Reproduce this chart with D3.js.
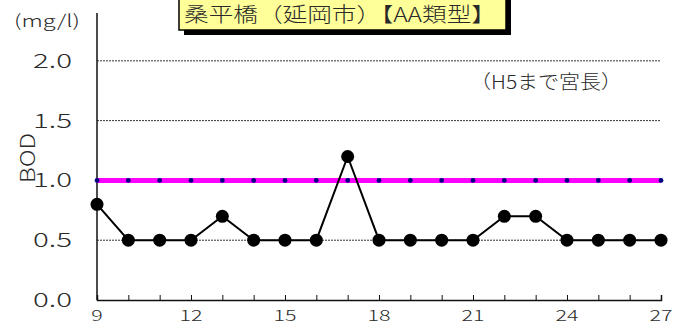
<!DOCTYPE html>
<html>
<head>
<meta charset="utf-8">
<script src="https://cdn.jsdelivr.net/npm/d3@7"></script>
<style>
  body { margin: 0; background: #fff; }
  svg text { font-family: "Noto Sans CJK JP", "DejaVu Sans", sans-serif; fill: #2a2a2a; font-weight: 300; }
</style>
</head>
<body>
<div id="chart"></div>
<script>
// data
const years = [9, 10, 11, 12, 13, 14, 15, 16, 17, 18, 19, 20, 21, 22, 23, 24, 25, 26, 27];
const bod = [0.8, 0.5, 0.5, 0.5, 0.7, 0.5, 0.5, 0.5, 1.2, 0.5, 0.5, 0.5, 0.5, 0.7, 0.7, 0.5, 0.5, 0.5, 0.5];
const standard = 1.0;
const yTicks = [0.0, 0.5, 1.0, 1.5, 2.0];
const xTicks = [9, 12, 15, 18, 21, 24, 27];
const title = "桑平橋（延岡市）【AA類型】";
const note = "（H5まで宮長）";

const W = 689, H = 325;
const svg = d3.select("#chart").append("svg")
    .attr("width", W).attr("height", H);

const x = d3.scaleLinear().domain([9, 27]).range([97, 661]);
const y = d3.scaleLinear().domain([0, 2.4]).range([300, 13]);

// dashed grid lines
svg.append("g")
    .selectAll("line")
    .data(yTicks.filter(d => d > 0))
    .join("line")
    .attr("x1", x(9)).attr("x2", x(27))
    .attr("y1", d => y(d)).attr("y2", d => y(d))
    .attr("stroke", "#333").attr("stroke-width", 1)
    .attr("stroke-dasharray", "2,1");

// axes
svg.append("line")
    .attr("x1", x(9)).attr("x2", x(9))
    .attr("y1", y(2.4)).attr("y2", y(0))
    .attr("stroke", "#111").attr("stroke-width", 1.5);

const xAxis = svg.append("g")
    .attr("transform", `translate(0, ${y(0)})`)
    .call(d3.axisBottom(x).tickValues(years).tickSize(-5).tickFormat(""));
xAxis.select(".domain").attr("stroke", "#111").attr("stroke-width", 1.5);
xAxis.selectAll(".tick line").attr("stroke", "#111");

// wide rounded-looking labels: stretch glyphs to the widths seen in the picture
svg.append("g")
    .selectAll("text")
    .data(xTicks)
    .join("text")
    .attr("x", d => x(d))
    .attr("y", 321)
    .attr("text-anchor", "middle")
    .attr("textLength", d => String(d).length * 11.5)
    .attr("lengthAdjust", "spacingAndGlyphs")
    .style("font-size", "15px")
    .text(d => d);

svg.append("g")
    .selectAll("text")
    .data(yTicks)
    .join("text")
    .attr("x", 72)
    .attr("y", d => y(d) + 7)
    .attr("text-anchor", "end")
    .attr("textLength", 39)
    .attr("lengthAdjust", "spacingAndGlyphs")
    .style("font-size", "20px")
    .text(d => d.toFixed(1));

svg.append("text")
    .attr("x", 14).attr("y", 27)
    .attr("textLength", 66)
    .attr("lengthAdjust", "spacingAndGlyphs")
    .style("font-size", "17px")
    .text("(mg/l)");

svg.append("text")
    .attr("transform", `translate(35, 158) rotate(-90)`)
    .attr("text-anchor", "middle")
    .attr("textLength", 50)
    .attr("lengthAdjust", "spacingAndGlyphs")
    .style("font-size", "20px")
    .text("BOD");

// environmental standard line
svg.append("line")
    .attr("x1", x(9)).attr("x2", x(27))
    .attr("y1", y(standard)).attr("y2", y(standard))
    .attr("stroke", "#ff00ff").attr("stroke-width", 5);

svg.append("g")
    .selectAll("circle")
    .data(years)
    .join("circle")
    .attr("cx", d => x(d))
    .attr("cy", y(standard))
    .attr("r", 2.4)
    .attr("fill", "#000080");

// BOD series
const line = d3.line()
    .x((d, i) => x(years[i]))
    .y(d => y(d));

svg.append("path")
    .datum(bod)
    .attr("d", line)
    .attr("fill", "none")
    .attr("stroke", "#000")
    .attr("stroke-width", 2);

svg.append("g")
    .selectAll("circle")
    .data(bod)
    .join("circle")
    .attr("cx", (d, i) => x(years[i]))
    .attr("cy", d => y(d))
    .attr("r", 6.5)
    .attr("fill", "#000");

// note
svg.append("text")
    .attr("x", 470).attr("y", 89)
    .attr("textLength", 152)
    .attr("lengthAdjust", "spacingAndGlyphs")
    .style("font-size", "19px")
    .text(note);

// title box with shadow
svg.append("rect")
    .attr("x", 184).attr("y", -10)
    .attr("width", 327).attr("height", 45)
    .attr("fill", "#000");
svg.append("rect")
    .attr("x", 179).attr("y", -10)
    .attr("width", 327).attr("height", 40)
    .attr("fill", "#ffff99")
    .attr("stroke", "#000").attr("stroke-width", 1.5);
svg.append("text")
    .attr("x", 184).attr("y", 22)
    .attr("textLength", 312)
    .attr("lengthAdjust", "spacingAndGlyphs")
    .style("font-size", "20px")
    .text(title);
</script>
</body>
</html>
